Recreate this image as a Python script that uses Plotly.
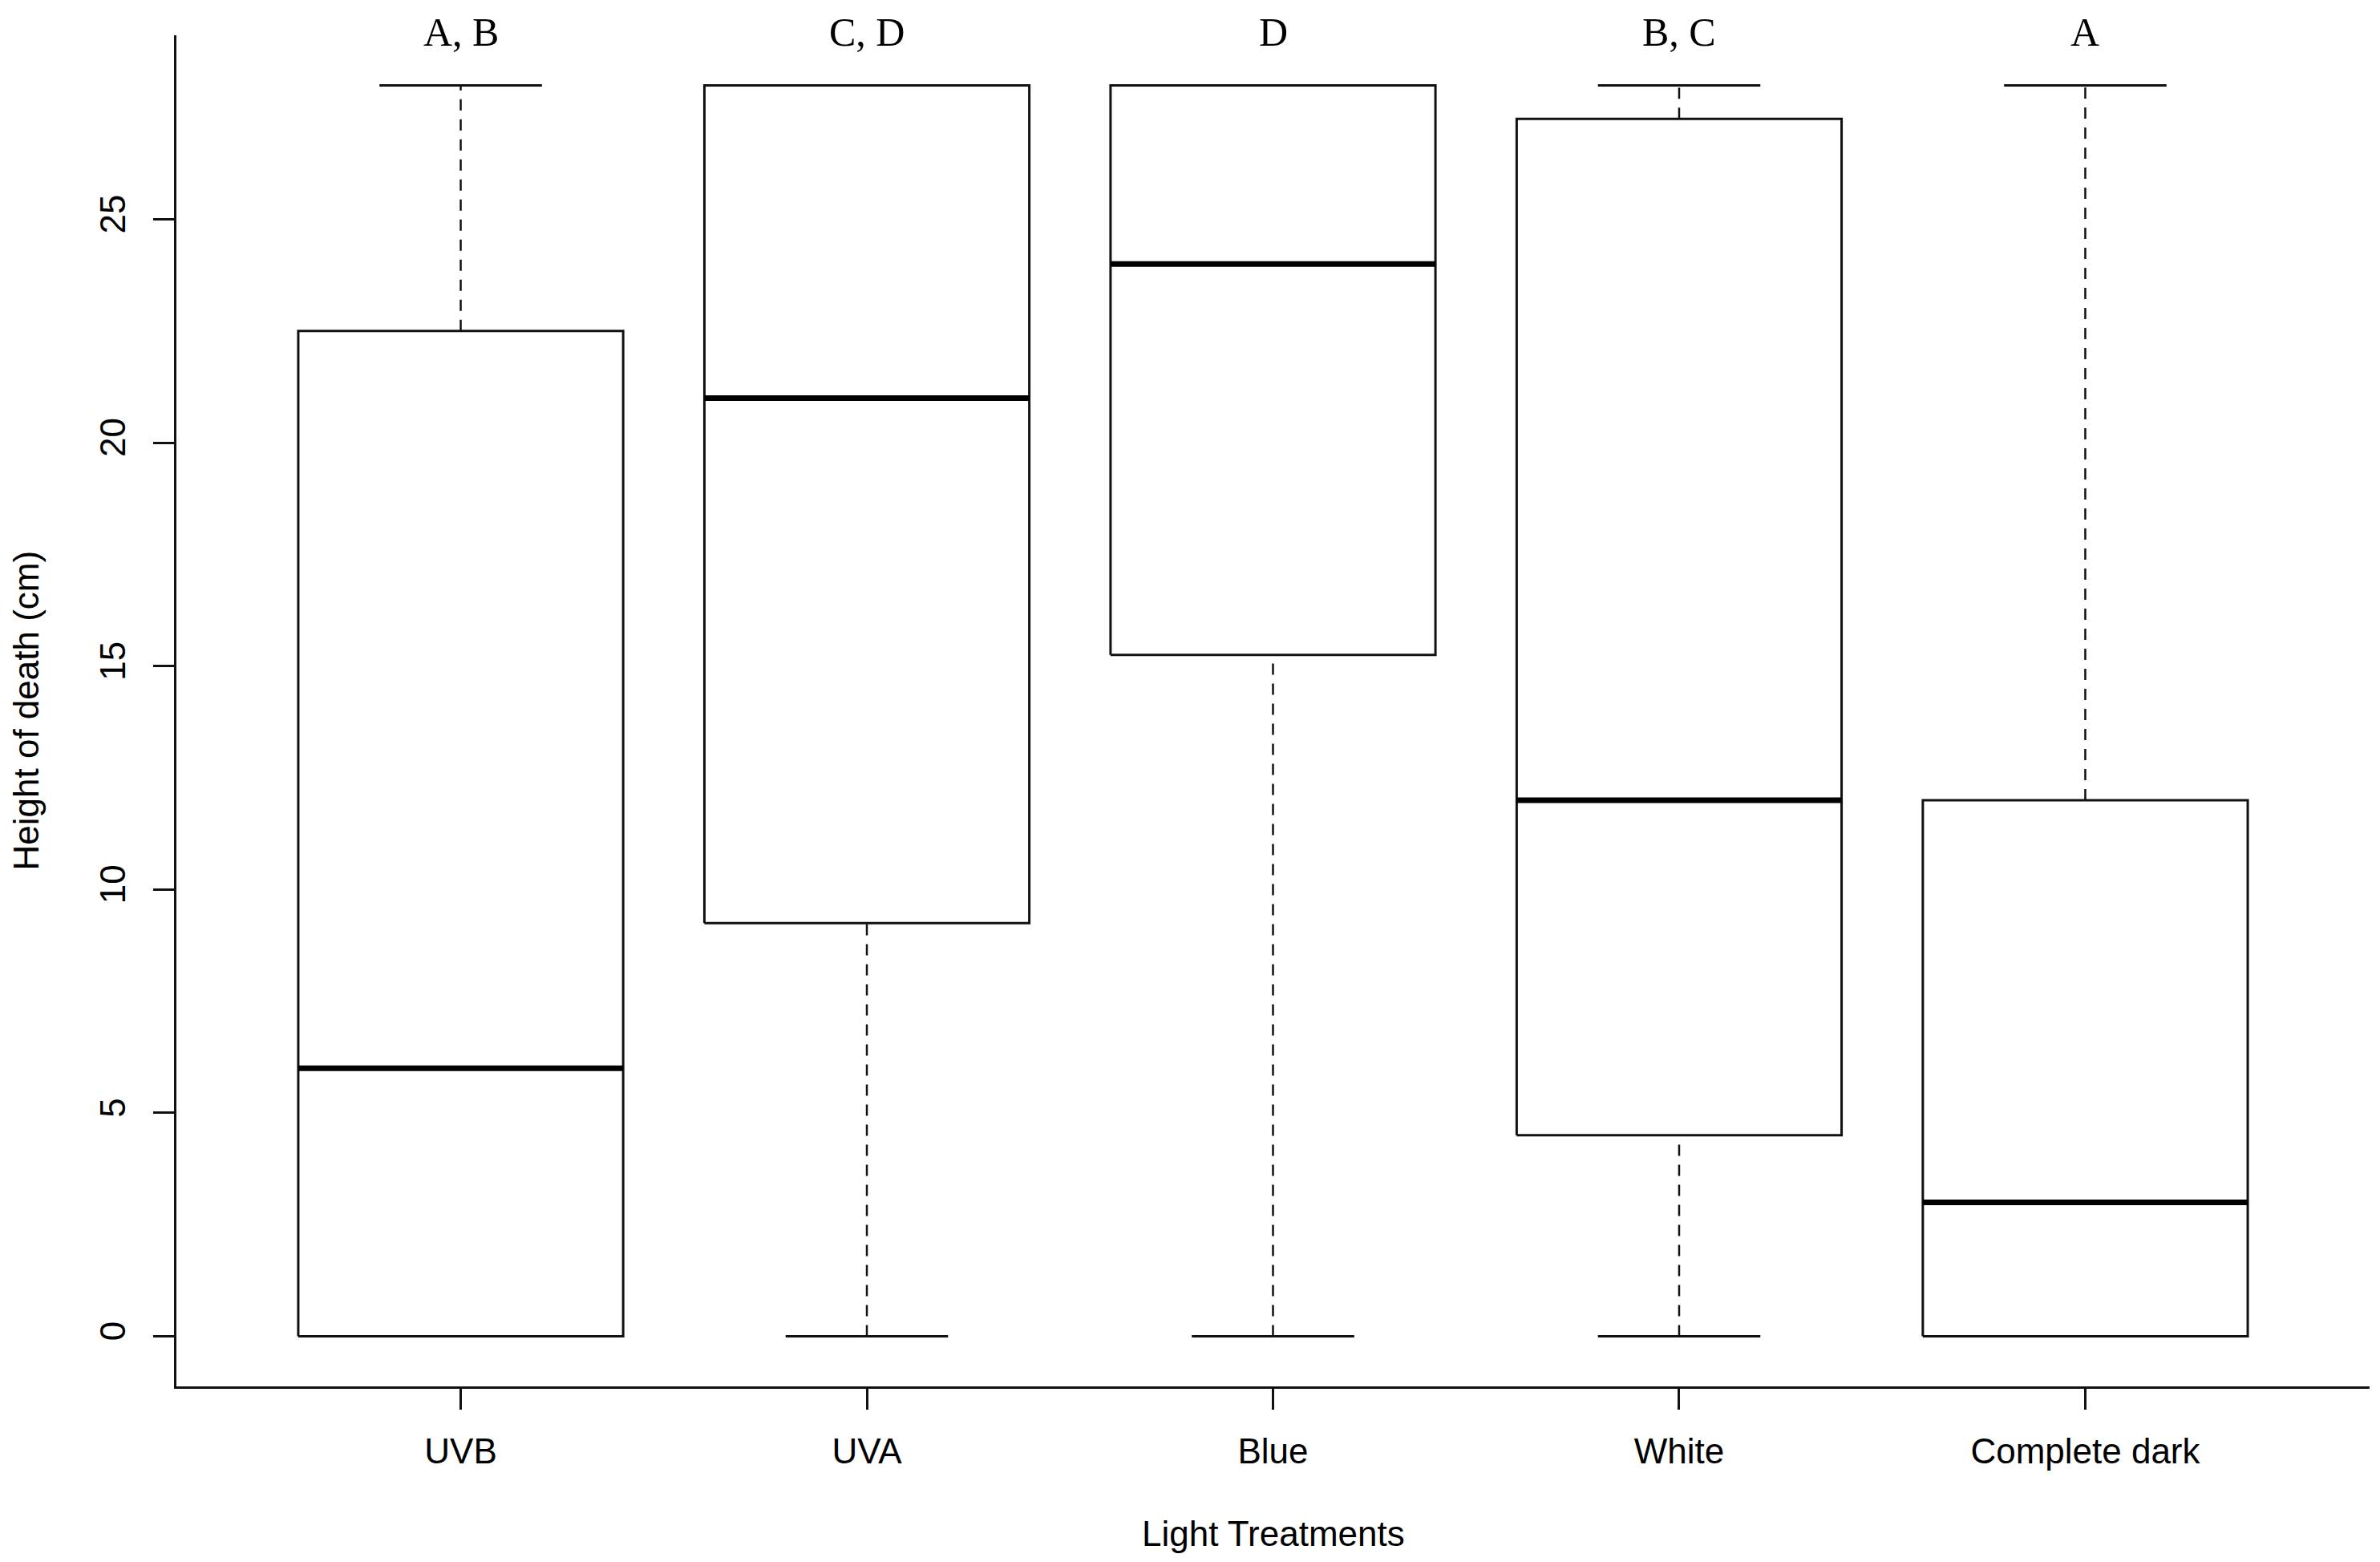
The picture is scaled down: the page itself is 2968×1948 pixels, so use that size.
import plotly.graph_objects as go

categories = ["UVB", "UVA", "Blue", "White", "Complete dark"]
lower_whisker = [0, 0, 0, 0, 0]
q1 = [0, 9.25, 15.25, 4.5, 0]
median = [6, 21, 24, 12, 3]
q3 = [22.5, 28, 28, 27.25, 12]
upper_whisker = [28, 28, 28, 28, 28]
letters = ["A, B", "C, D", "D", "B, C", "A"]
y_ticks = [0, 5, 10, 15, 20, 25]

BOX_HALF = 0.4
CAP_HALF = 0.2
INK = "#111111"

fig = go.Figure()
for i, cat in enumerate(categories):
    xc = i + 1
    # whiskers (dashed)
    fig.add_trace(go.Scatter(
        x=[xc, xc, None, xc, xc],
        y=[q3[i], upper_whisker[i], None, lower_whisker[i], q1[i]],
        mode="lines", line=dict(color=INK, width=2.5, dash="14px,11px"),
        showlegend=False, hoverinfo="skip"))
    # caps
    fig.add_trace(go.Scatter(
        x=[xc - CAP_HALF, xc + CAP_HALF, None, xc - CAP_HALF, xc + CAP_HALF],
        y=[upper_whisker[i], upper_whisker[i], None, lower_whisker[i], lower_whisker[i]],
        mode="lines", line=dict(color=INK, width=3),
        showlegend=False, hoverinfo="skip"))
    # box
    fig.add_trace(go.Scatter(
        x=[xc - BOX_HALF, xc + BOX_HALF, xc + BOX_HALF, xc - BOX_HALF, xc - BOX_HALF],
        y=[q1[i], q1[i], q3[i], q3[i], q1[i]],
        mode="lines", line=dict(color=INK, width=3),
        showlegend=False, hoverinfo="skip", name=cat))
    # median
    fig.add_trace(go.Scatter(
        x=[xc - BOX_HALF, xc + BOX_HALF],
        y=[median[i], median[i]],
        mode="lines", line=dict(color="#000000", width=7),
        showlegend=False, hoverinfo="skip"))
    fig.add_annotation(x=xc, y=1, xref="x", yref="paper", yanchor="middle",
                       yshift=4, text=letters[i], showarrow=False,
                       font=dict(family="Liberation Serif, Times New Roman, serif",
                                 size=50, color="#000000"))

fig.add_annotation(x=0.5, y=0, xref="paper", yref="paper", yanchor="middle",
                   yshift=-183, text="Light Treatments", showarrow=False,
                   font=dict(family="Liberation Sans, Arial, sans-serif", size=44, color="#000000"))
fig.add_annotation(x=0, y=0.5, xref="paper", yref="paper", xanchor="center",
                   xshift=-188, text="Height of death (cm)", showarrow=False, textangle=-90,
                   font=dict(family="Liberation Sans, Arial, sans-serif", size=44, color="#000000"))

fig.update_layout(
    width=2968, height=1948,
    margin=dict(l=212, r=21, t=36, b=227),
    paper_bgcolor="white", plot_bgcolor="white",
    font=dict(family="Liberation Sans, Arial, sans-serif", size=44, color="#000000"),
)
fig.update_xaxes(
    range=[0.3, 5.7], tickvals=[1, 2, 3, 4, 5], ticktext=categories,
    showgrid=False, zeroline=False, showline=True, linecolor=INK, linewidth=3,
    ticks="outside", ticklen=26, tickwidth=3, tickcolor=INK, ticklabelstandoff=14,
)
fig.update_yaxes(
    range=[-1.12, 29.12], tickvals=y_ticks, ticktext=[str(v) for v in y_ticks],
    showgrid=False, zeroline=False, showline=True, linecolor=INK, linewidth=3,
    ticks="outside", ticklen=26, tickwidth=3, tickcolor=INK, tickangle=-90,
    ticklabelstandoff=17,
)

fig.write_html("out.html")
